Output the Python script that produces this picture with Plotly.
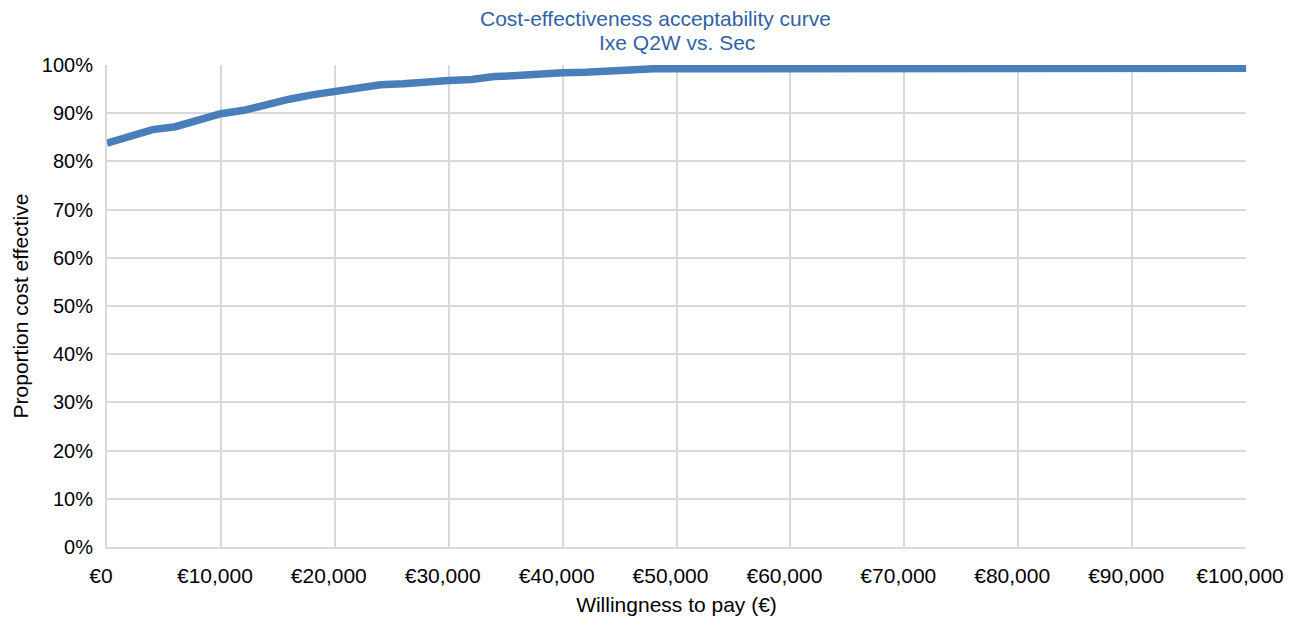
import plotly.graph_objects as go

wtp = list(range(0, 100001, 2000))
proportion = [83.8, 85.2, 86.6, 87.2, 88.7, 89.9, 90.6, 91.9, 92.9, 93.8,
              94.6, 95.2, 95.9, 96.1, 96.6, 96.8, 97.0, 97.6, 97.8, 98.2,
              98.4, 98.5, 98.8, 99.1, 99.2, 99.2, 99.2, 99.3, 99.2, 99.1,
              99.0, 99.0, 99.0, 99.1, 99.2, 99.3, 99.3, 99.3, 99.3, 99.3,
              99.3, 99.3, 99.3, 99.3, 99.3, 99.3, 99.3, 99.2, 99.1, 99.3,
              99.3]

x_ticks = list(range(0, 100001, 10000))
x_tick_labels = ["€0", "€10,000", "€20,000", "€30,000", "€40,000", "€50,000",
                 "€60,000", "€70,000", "€80,000", "€90,000", "€100,000"]
y_ticks = list(range(0, 101, 10))
y_tick_labels = [f"{v}%" for v in y_ticks]

title_line1 = "Cost-effectiveness acceptability curve"
title_line2 = "Ixe Q2W vs. Sec"

FONT = "Liberation Sans, Arial, sans-serif"
GRID = "#d9d9d9"
TITLE_COLOR = "#3161a5"

fig = go.Figure()
fig.add_trace(go.Scatter(
    x=wtp, y=proportion, mode="lines",
    line=dict(color="#4a7ebb", width=7.5),
    hoverinfo="x+y", showlegend=False,
))

fig.update_layout(
    width=1295, height=623,
    margin=dict(l=96, r=57, t=57, b=84),
    paper_bgcolor="white", plot_bgcolor="white",
    font=dict(family=FONT, size=20, color="black"),
    title=dict(
        text=title_line1,
        x=0.5, xanchor="center", y=0.983, yanchor="middle",
        font=dict(family=FONT, size=21, color=TITLE_COLOR),
    ),
    annotations=[dict(
        text=title_line2, xref="paper", yref="paper",
        x=0.5, y=1.046, xanchor="center", yanchor="middle",
        showarrow=False, font=dict(family=FONT, size=21, color=TITLE_COLOR),
    )],
    xaxis=dict(
        range=[0, 100000], tickmode="array",
        tickvals=x_ticks, ticktext=x_tick_labels,
        showgrid=True, gridcolor=GRID, gridwidth=2,
        showline=True, linecolor=GRID, linewidth=2, mirror=False,
        zeroline=False, ticks="", ticklabelstandoff=9, ticklabelshift=-6,
        tickfont=dict(family=FONT, size=21, color="black"),
        title=dict(text="Willingness to pay (€)", standoff=11,
                   font=dict(family=FONT, size=21, color="black")),
    ),
    yaxis=dict(
        range=[0, 100], tickmode="array",
        tickvals=y_ticks, ticktext=y_tick_labels,
        showgrid=True, gridcolor=GRID, gridwidth=2,
        showline=True, linecolor=GRID, linewidth=2,
        zeroline=False, ticks="", ticklabelstandoff=8,
        tickfont=dict(family=FONT, size=20, color="black"),
        title=dict(text="Proportion cost effective", standoff=7,
                   font=dict(family=FONT, size=21, color="black")),
    ),
)

fig.write_html("out.html")
